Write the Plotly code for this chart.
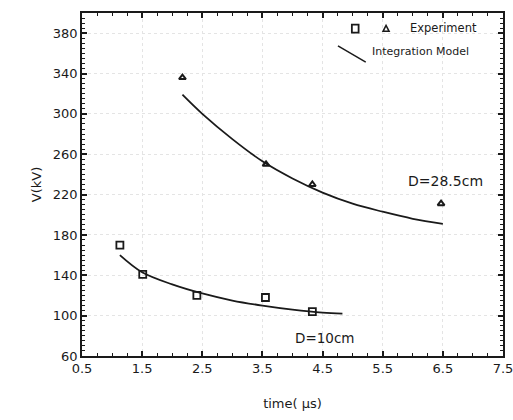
import plotly.graph_objects as go

# Experimental data
sq_t = [1.13, 1.51, 2.41, 3.55, 4.33]
sq_v = [170, 141, 120, 118, 104]
tri_t = [2.17, 3.56, 4.33, 6.47]
tri_v = [336, 250, 230, 211]

# Integration model curves
m285_t = [2.17, 2.5, 3.0, 3.5, 4.0, 4.5, 5.0, 5.5, 6.0, 6.5]
m285_v = [319, 300, 275, 253, 236, 222, 211, 203, 196, 191]
m10_t = [1.13, 1.5, 2.0, 2.5, 3.0, 3.5, 4.0, 4.5, 4.83]
m10_v = [160, 143, 131, 122, 115, 110, 106, 103, 102]

x_ticks = [0.5, 1.5, 2.5, 3.5, 4.5, 5.5, 6.5, 7.5]
y_ticks = [60, 100, 140, 180, 220, 260, 300, 340, 380]

FONT = "DejaVu Sans"
INK = "#1a1a1a"

fig = go.Figure()
fig.add_trace(go.Scatter(x=m285_t, y=m285_v, mode="lines", line=dict(color=INK, width=1.8, shape="spline"), showlegend=False))
fig.add_trace(go.Scatter(x=m10_t, y=m10_v, mode="lines", line=dict(color=INK, width=1.8, shape="spline"), showlegend=False))
fig.add_trace(go.Scatter(x=sq_t, y=sq_v, mode="markers",
                         marker=dict(symbol="square-open", size=7, color=INK, line=dict(width=1.8)), showlegend=False))
fig.add_trace(go.Scatter(x=tri_t, y=tri_v, mode="markers",
                         marker=dict(symbol="triangle-up-open", size=6, color=INK, line=dict(width=2)), showlegend=False))

axis_common = dict(showline=True, linecolor=INK, linewidth=1.5, mirror="ticks",
                   ticks="inside", ticklen=5, tickcolor=INK, tickwidth=1.5,
                   showgrid=True, gridcolor="#e4e4e4", griddash="dot", gridwidth=1,
                   zeroline=False, automargin=False,
                   ticklabeloverflow="allow",
                   tickfont=dict(family=FONT, size=13, color=INK))

fig.update_xaxes(range=[x_ticks[0], x_ticks[-1]], tickmode="linear",
                 tick0=x_ticks[0], dtick=x_ticks[1] - x_ticks[0], tickformat=".1f",
                 minor=dict(tickmode="linear", dtick=0.25, tick0=0.5, ticks="inside", ticklen=3, tickcolor=INK, tickwidth=1.2, showgrid=False),
                 title=dict(text="time( μs)", font=dict(family=FONT, size=13, color=INK), standoff=24),
                 **axis_common)
fig.update_yaxes(range=[60, 400], tickmode="linear",
                 tick0=y_ticks[0], dtick=y_ticks[1] - y_ticks[0],
                 minor=dict(tickmode="linear", dtick=5, tick0=60, ticks="inside", ticklen=3, tickcolor=INK, tickwidth=1.2, showgrid=False),
                 title=dict(text="V(kV)", font=dict(family=FONT, size=13, color=INK), standoff=8),
                 **axis_common)

# Custom legend
shapes = [
    dict(type="rect", xref="paper", yref="paper", x0=0.641, x1=0.657, y0=0.943, y1=0.966,
         line=dict(color=INK, width=1.8)),
    dict(type="path", xref="paper", yref="paper",
         path="M 0.715 0.9465 L 0.7295 0.9465 L 0.7222 0.964 Z", line=dict(color=INK, width=1.5)),
    dict(type="line", xref="paper", yref="paper", x0=0.608, y0=0.904, x1=0.674, y1=0.857,
         line=dict(color=INK, width=1.5)),
]
annotations = [
    dict(text="Experiment", xref="paper", yref="paper", x=0.775, y=0.955, xanchor="left", yanchor="middle",
         showarrow=False, font=dict(family=FONT, size=11.5, color=INK)),
    dict(text="Integration Model", xref="paper", yref="paper", x=0.685, y=0.887, xanchor="left", yanchor="middle",
         showarrow=False, font=dict(family=FONT, size=11, color=INK)),
    dict(text="D=28.5cm", x=5.88, y=233, xref="x", yref="y", xanchor="left", yanchor="middle",
         showarrow=False, font=dict(family=FONT, size=14, color=INK)),
    dict(text="D=10cm", x=4.0, y=78, xref="x", yref="y", xanchor="left", yanchor="middle",
         showarrow=False, font=dict(family=FONT, size=13.5, color=INK)),
]

fig.update_layout(width=513, height=420, margin=dict(l=82, r=10, t=13, b=64),
                  paper_bgcolor="white", plot_bgcolor="white",
                  shapes=shapes, annotations=annotations, showlegend=False)

fig.write_html("out.html")
